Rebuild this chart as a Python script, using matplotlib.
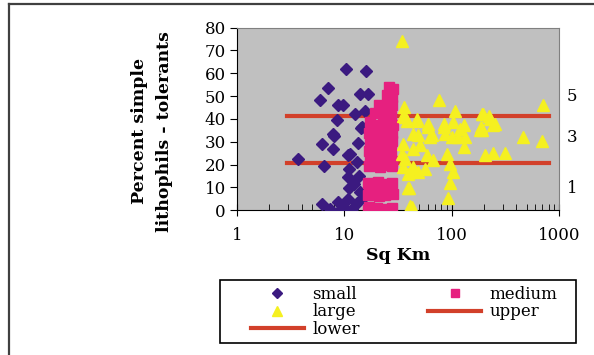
import matplotlib.pyplot as plt
from matplotlib.lines import Line2D
from matplotlib.patches import Rectangle

# small basins (diamonds)
small_x = [10.3, 16, 7, 5.9, 14.1, 16.5, 8.8, 9.8, 12.6, 15.7, 8.5, 7.9, 14.3,
           8.0, 6.2, 7.9, 13.3, 3.7, 6.4, 11.3, 13.0, 11.1, 13.6, 10.9, 11.1,
           14.0, 10.9, 6.2, 7.4, 8.8, 9.4, 11.7, 15.1, 13, 14.5, 10.9, 12.2, 9.8]
small_y = [62, 61, 53.6, 48.5, 51, 51, 46, 46.3, 42, 43.3, 39.6, 33.5, 36,
           32.5, 28.9, 27, 29.6, 22.4, 19.4, 24.5, 21, 18.2, 14.9, 14.6, 9.9,
           8, 5.1, 2.9, 0.4, 3.6, 0.3, 0.7, 5.8, 3.2, 36.4, 24, 11.5, 1.5]

# medium basins (squares)
medium_x = [26, 28.5, 25, 28, 21, 25.5, 28, 19.5, 23, 27,
            17.5, 21, 25, 28.5, 17, 20.5, 24, 28, 17.5, 20, 23.5, 28,
            17, 21, 24.5, 27.5, 17.5, 20, 24, 28, 17, 21.5, 25, 28,
            16.5, 20.5, 23.5, 28, 17, 20, 24.5, 27.5, 16.5, 21, 24, 28.5,
            17, 20, 24, 28, 16.5, 22, 27]
medium_y = [54, 53, 50.5, 49.5, 46, 45.5, 46, 42.5, 42, 41.5,
            38.5, 37.5, 38, 37.5, 34, 34.5, 33.5, 34, 30.5, 30, 29.5, 30.5,
            26, 26.5, 25.5, 26, 22.5, 22, 22.5, 21.5, 19.5, 19, 20, 19.5,
            12, 12.3, 11.5, 12, 9.5, 8.5, 9, 9.5, 6.5, 6, 6.5, 7,
            1.5, 1, 0.5, 1, 0, 0, 0]

# large basins (triangles)
large_x = [34.7, 76.6, 707, 36.2, 107, 197, 225, 48, 35.5, 59.6, 84, 104, 129,
           254, 188, 467, 700, 205, 245, 312, 190, 90, 104, 97, 93, 41, 40, 67,
           58.5, 56, 49, 41, 37, 34.3, 35.5, 44, 50.8, 35.5, 44, 60.6, 84, 100,
           129, 133, 115, 63, 49, 245, 87, 37, 190, 230, 184, 120, 47.5, 38,
           97, 44, 39.4, 39.4, 42.5, 65]
large_y = [74.3, 48.1, 46.3, 45.2, 43.4, 42, 41.1, 40.1, 41.5, 37.9, 37.9, 38.6,
           37.2, 37.9, 36.4, 32, 30.3, 24, 25, 25, 35, 24.8, 16.7, 11.7, 5.4,
           1.7, 9.8, 21.9, 24, 18.2, 16.7, 16.7, 22.6, 24.8, 19, 27, 28.4, 29.2,
           33.5, 36.4, 36.4, 32, 27.7, 32, 32, 32, 32.8, 37.2, 33.5, 40.8, 42.3,
           40, 35, 35.7, 39.3, 39.3, 20.4, 19, 16, 9.5, 1.4, 32.8]

# reference lines
line_x = [2.9, 800]
upper_y = [41.3, 41.3]
lower_y = [20.8, 20.8]

side_labels = ['5', '3', '1']
side_pos = [50, 32, 9.5]

plt.rcParams['font.family'] = 'DejaVu Serif'

fig = plt.figure(figsize=(5.94, 3.55), dpi=100)
ax = fig.add_axes([0.399, 0.408, 0.542, 0.514])
ax.set_facecolor('#c0c0c0')

h_small, = ax.plot(small_x, small_y, 'D', color='#3b1a80', markersize=6.5,
                   linestyle='none', label='small', zorder=3)
h_medium, = ax.plot(medium_x, medium_y, 's', color='#e6207f', markersize=7.8,
                    linestyle='none', label='medium', zorder=3)
h_large, = ax.plot(large_x, large_y, '^', color='#f5f020', markersize=8.5,
                   linestyle='none', label='large', zorder=4)
h_upper, = ax.plot(line_x, upper_y, color='#d2402a', linewidth=3,
                   label='upper', zorder=2)
h_lower, = ax.plot(line_x, lower_y, color='#d2402a', linewidth=3,
                   label='lower', zorder=2)

ax.set_xscale('log')
ax.set_xlim(1, 1000)
ax.set_ylim(0, 80)
ax.set_yticks(range(0, 81, 10))
ax.set_xticks([1, 10, 100, 1000])
ax.set_xticklabels(['1', '10', '100', '1000'])

for side in ['top', 'right']:
    ax.spines[side].set_color('#808080')
ax.spines['left'].set_color('black')
ax.spines['bottom'].set_color('black')
ax.tick_params(axis='y', direction='out', length=5, labelsize=12, pad=3)
ax.tick_params(axis='x', which='major', direction='inout', length=8,
               labelsize=12, pad=8)
ax.tick_params(axis='x', which='minor', direction='in', length=4)

ax.set_xlabel('Sq Km', fontsize=12.5, fontweight='bold', labelpad=2)
fig.text(0.256, 0.63, 'Percent simple\nlithophils - tolerants', rotation=90,
         fontsize=12.5, fontweight='bold', ha='center', va='center',
         linespacing=1.6)

for lab, pos in zip(side_labels, side_pos):
    ax.text(1.04, pos, lab, transform=ax.get_yaxis_transform(),
            fontsize=12, ha='center', va='center')

# legend without its own frame, box drawn separately
leg = fig.legend(handles=[h_small, h_large, h_lower, h_medium, h_upper],
                 loc='upper left', bbox_to_anchor=(0.412, 0.212), ncol=2,
                 frameon=False, fontsize=12, handlelength=3.2,
                 handletextpad=0.5, columnspacing=4.1, labelspacing=0.05,
                 borderpad=0.35, borderaxespad=0, markerscale=0.8)
fig.add_artist(Rectangle((220 / 594, 1 - 343 / 355), 356 / 594, 63 / 355,
                         transform=fig.transFigure, fill=False,
                         edgecolor='black', linewidth=1.2))

# outer chart border (left and top only are in view)
fig.add_artist(Line2D([0.0145, 0.0145], [0, 0.988], color='#404040',
                      linewidth=1.6, transform=fig.transFigure))
fig.add_artist(Line2D([0.0145, 1], [0.988, 0.988], color='#404040',
                      linewidth=1.6, transform=fig.transFigure))

fig.savefig('out.png', dpi=100)
